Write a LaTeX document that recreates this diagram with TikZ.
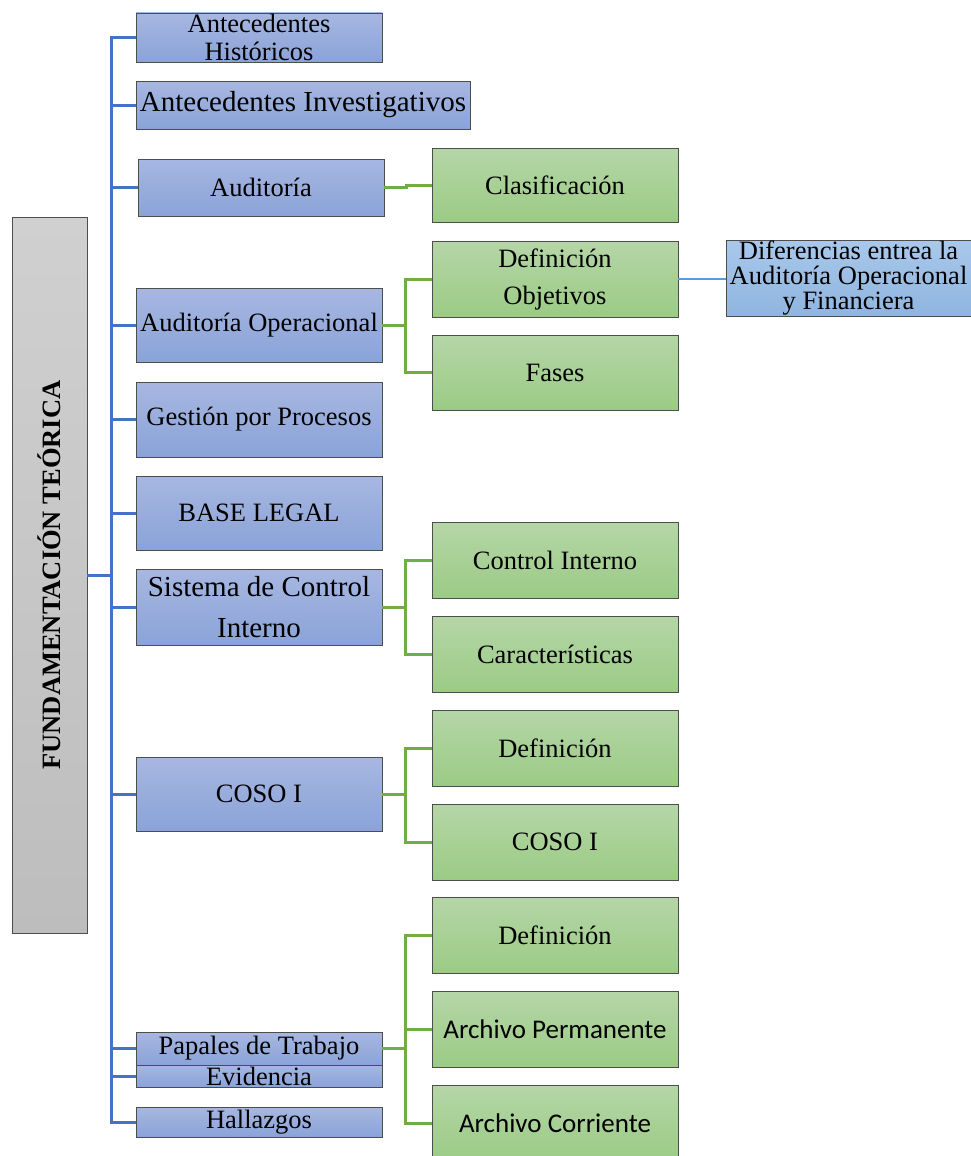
\documentclass[tikz,border=0pt]{standalone}
\usepackage{fontspec}
\setmainfont{Liberation Serif}
\newfontfamily\calibrifont{Carlito}
\definecolor{blueTop}{HTML}{A7B7E1}
\definecolor{blueBot}{HTML}{8AA3D8}
\definecolor{greenTop}{HTML}{B5D6A7}
\definecolor{greenBot}{HTML}{9BCB85}
\definecolor{grayTop}{HTML}{D0D0D0}
\definecolor{grayBot}{HTML}{BDBDBD}
\definecolor{ltTop}{HTML}{A9C8EA}
\definecolor{ltBot}{HTML}{8FB5E0}
\definecolor{trunkBlue}{HTML}{4472C4}
\definecolor{linkGreen}{HTML}{70AD47}
\definecolor{linkBlue}{HTML}{5B9BD5}
\definecolor{edge}{HTML}{4D4D4D}
\begin{document}
\begin{tikzpicture}[x=1pt,y=-1pt,
  box/.style={draw=edge, line width=0.9pt, inner sep=0pt, align=center,
    font=\fontsize{26.5}{28}\selectfont},
  bluebox/.style={box, top color=blueTop, bottom color=blueBot, minimum width=246pt},
  greenbox/.style={box, top color=greenTop, bottom color=greenBot, minimum width=246pt, minimum height=76pt},
  blueline/.style={draw=trunkBlue, line width=3pt},
  greenline/.style={draw=linkGreen, line width=3pt},
  ltline/.style={draw=linkBlue, line width=2pt}]
\useasboundingbox (0,0) rectangle (971,1156);
% root
\node[box, top color=grayTop, bottom color=grayBot, minimum width=75pt, minimum height=716pt] (root) at (49.5,575) {};
\node[rotate=90, font=\fontsize{26.5}{28}\selectfont\bfseries] at (49,575) {FUNDAMENTACIÓN TEÓRICA};
% blue boxes
\node[bluebox, minimum height=49pt] (b1) at (259,37.5) {\fontsize{26.5}{28}\selectfont Antecedentes\\Históricos};
\node[bluebox, minimum width=334pt, minimum height=48pt, font=\fontsize{29}{30}\selectfont] (b2) at (303,105) {Antecedentes Investigativos};
\node[bluebox, minimum height=57pt] (b3) at (261,187.5) {Auditoría};
\node[bluebox, minimum height=74pt] (b4) at (259,325) {Auditoría Operacional};
\node[bluebox, minimum height=75pt] (b5) at (259,419.5) {Gestión por Procesos};
\node[bluebox, minimum height=74pt] (b6) at (259,513) {BASE LEGAL};
\node[bluebox, minimum height=76pt, font=\fontsize{29}{41}\selectfont] (b7) at (259,607) {Sistema de Control\\Interno};
\node[bluebox, minimum height=74pt] (b8) at (259,794) {COSO I};
\node[bluebox, minimum height=33pt] (b9) at (259,1048.5) {Papales de Trabajo};
\node[bluebox, minimum height=22pt] (b10) at (259,1076) {Evidencia};
\node[bluebox, minimum height=30pt] (b11) at (259,1122) {Hallazgos};
% green boxes
\node[greenbox, minimum height=74pt] (g1) at (555,185) {Clasificación};
\node[greenbox, font=\fontsize{26.5}{37}\selectfont] (g2) at (555,279) {Definición\\Objetivos};
\node[greenbox, minimum height=75pt] (g3) at (555,372.5) {Fases};
\node[greenbox] (g4) at (555,560) {Control Interno};
\node[greenbox] (g5) at (555,654) {Características};
\node[greenbox] (g6) at (555,748) {Definición};
\node[greenbox] (g7) at (555,842) {COSO I};
\node[greenbox] (g8) at (555,935) {Definición};
\node[greenbox, font=\calibrifont\fontsize{27}{28}\selectfont] (g9) at (555,1029) {Archivo Permanente};
\node[greenbox, font=\calibrifont\fontsize{27}{28}\selectfont] (g10) at (555,1123) {Archivo Corriente};
% light blue box
\node[box, top color=ltTop, bottom color=ltBot, minimum width=245pt, minimum height=76pt, font=\fontsize{26.5}{25}\selectfont] (d1) at (848.5,278) {Diferencias entrea la\\Auditoría Operacional\\y Financiera};
% blue connectors
\coordinate (trunk) at (111,575);
\draw[blueline] (root.east) -- (trunk);
\foreach \n in {b1,b2,b3,b4,b5,b6,b7,b8,b9,b10,b11}{
  \draw[blueline] (trunk) |- (\n.west);
}
% green connectors
\draw[greenline] (b3.east) -- ++(22,0) |- (g1.west);
\draw[greenline] (b4.east) -- ++(23,0) coordinate (j4);
\draw[greenline] (j4) |- (g2.west);
\draw[greenline] (j4) |- (g3.west);
\draw[greenline] (b7.east) -- ++(23,0) coordinate (j7);
\draw[greenline] (j7) |- (g4.west);
\draw[greenline] (j7) |- (g5.west);
\draw[greenline] (b8.east) -- ++(23,0) coordinate (j8);
\draw[greenline] (j8) |- (g6.west);
\draw[greenline] (j8) |- (g7.west);
\draw[greenline] (b9.east) -- ++(23,0) coordinate (j9);
\draw[greenline] (j9) |- (g8.west);
\draw[greenline] (j9) |- (g9.west);
\draw[greenline] (j9) |- (g10.west);
% light blue connector
\draw[ltline] (g2.east) -- (g2.east -| d1.west);
\end{tikzpicture}
\end{document}
